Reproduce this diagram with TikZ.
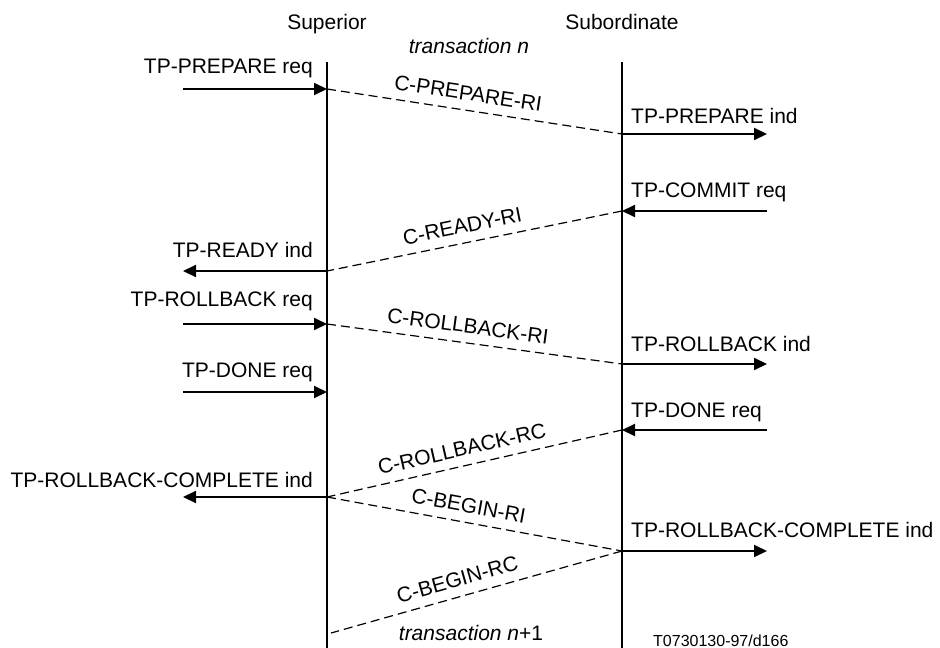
\documentclass[tikz,border=0pt]{standalone}
\usepackage{fontspec}
\setmainfont{Liberation Sans}
\usetikzlibrary{arrows.meta,positioning,calc}

\begin{document}
\begin{tikzpicture}[x=1pt,y=-1pt,every node/.style={font=\fontsize{21}{25}\selectfont,inner sep=0pt},
  ln/.style={line width=2pt},
  msg/.style={line width=2pt,-{Triangle[length=13pt,width=12pt]}},
  pdu/.style={line width=1.2pt,dash pattern=on 9pt off 5pt},
  lt/.style={anchor=base east},
  rg/.style={anchor=base west},
  cl/.style={sloped,above=7pt,inner sep=2pt}]
\useasboundingbox (0,0) rectangle (940,648);
\node[anchor=base] (sup) at (327,29) {Superior};
\node[anchor=base] (sub) at (622,29) {Subordinate};
\node[anchor=base] (trn) at (469,53) {\textit{transaction n}};
\node[anchor=base] (trn1) at (471,640) {\textit{transaction n}+1};
\node[anchor=base west,font=\fontsize{16}{19}\selectfont] (ref) at (653,646) {T0730130-97/d166};
\coordinate (supA) at (327,62); \coordinate (supZ) at (327,648);
\coordinate (subA) at (622,62); \coordinate (subZ) at (622,648);
\draw[ln] (supA) -- (supZ);
\draw[ln] (subA) -- (subZ);
\coordinate (p1) at (327,89); \coordinate (p2) at (327,271); \coordinate (p3) at (327,324);
\coordinate (p4) at (327,392); \coordinate (p5) at (327,497); \coordinate (p6) at (331,633);
\coordinate (q1) at (622,134); \coordinate (q2) at (622,211); \coordinate (q3) at (622,364);
\coordinate (q4) at (622,430); \coordinate (q5) at (622,551);
\coordinate (l1) at (183,89); \coordinate (l2) at (183,271); \coordinate (l3) at (183,324);
\coordinate (l4) at (183,392); \coordinate (l5) at (183,497);
\coordinate (r1) at (767,134); \coordinate (r2) at (767,211); \coordinate (r3) at (767,364);
\coordinate (r4) at (767,430); \coordinate (r5) at (767,551);
% superior side
\node[lt] (prq) at (313,73) {TP-PREPARE req};
\draw[msg] (l1) -- (p1);
\node[lt] (rdi) at (313,257) {TP-READY ind};
\draw[msg] (p2) -- (l2);
\node[lt] (rbq) at (313,306) {TP-ROLLBACK req};
\draw[msg] (l3) -- (p3);
\node[lt] (dnq) at (313,377) {TP-DONE req};
\draw[msg] (l4) -- (p4);
\node[lt] (rci) at (313,487) {TP-ROLLBACK-COMPLETE ind};
\draw[msg] (p5) -- (l5);
% subordinate side
\node[rg] (pri) at (631,123) {TP-PREPARE ind};
\draw[msg] (q1) -- (r1);
\node[rg] (cmq) at (631,197) {TP-COMMIT req};
\draw[msg] (r2) -- (q2);
\node[rg] (rbi) at (631,351) {TP-ROLLBACK ind};
\draw[msg] (q3) -- (r3);
\node[rg] (dnq2) at (631,417) {TP-DONE req};
\draw[msg] (r4) -- (q4);
\node[rg] (rci2) at (631,537) {TP-ROLLBACK-COMPLETE ind};
\draw[msg] (q5) -- (r5);
% PDUs
\draw[pdu] (p1) -- node[cl,pos=0.47] (cpr) {C-PREPARE-RI} (q1);
\draw[pdu] (q2) -- node[cl,pos=0.53] (crd) {C-READY-RI} (p2);
\draw[pdu] (p3) -- node[cl,pos=0.47] (crb) {C-ROLLBACK-RI} (q3);
\draw[pdu] (q4) -- node[cl,pos=0.53] (crc) {C-ROLLBACK-RC} (p5);
\draw[pdu] (p5) -- node[cl,pos=0.47] (cbr) {C-BEGIN-RI} (q5);
\draw[pdu] (q5) -- node[cl,pos=0.55] (cbc) {C-BEGIN-RC} (p6);
\end{tikzpicture}
\end{document}
